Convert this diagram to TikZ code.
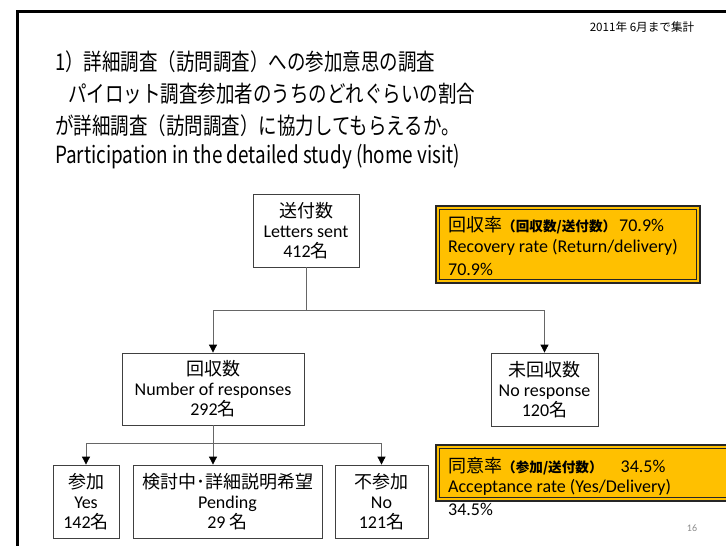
\documentclass[tikz,border=0pt]{standalone}
\usepackage{fontspec}
\setmainfont{Carlito}
\newfontfamily\jp{Noto Sans CJK JP}
\usetikzlibrary{arrows.meta}
\definecolor{rateorange}{HTML}{FFC000}
\newcommand{\tall}[1]{\scalebox{1}[1.25]{#1}}

\begin{document}
\begin{tikzpicture}[x=1pt,y=-1pt,
  box/.style={draw=black!75,line width=0.8pt,fill=white,align=center,
    inner sep=0pt,font=\fontsize{18}{20}\selectfont},
  ln/.style={draw=black!60,line width=0.8pt},
  arr/.style={ln,-{Triangle[width=8pt,length=8pt,color=black]}},
  ratebox/.style={fill=rateorange,draw=black!85,line width=1.6pt},
  rateinner/.style={draw=black!85,line width=0.7pt},
  ratetext/.style={anchor=west,inner sep=0pt,font=\fontsize{18}{20}\selectfont},
  title/.style={anchor=west,inner sep=0pt,font=\jp\fontsize{18.5}{22}\selectfont}]

\path[use as bounding box,clip] (0,0) rectangle (726,546);

\coordinate (f0) at (17,546);
\coordinate (f1) at (17,11);
\coordinate (f2) at (726,11);
\coordinate (split1) at (306,310);
\coordinate (split2) at (213,443);
  \draw[line width=3pt] (f0) -- (f1) -- (f2);

  \node[inner sep=0pt,font=\jp\fontsize{11.6}{14}\selectfont] (date) at (642,27) {2011年 6月まで集計};

  \node[title] (t1) at (55,62) {\tall{1）詳細調査（訪問調査）への参加意思の調査}};
  \node[title] (t2) at (68,94) {\tall{パイロット調査参加者のうちのどれぐらいの割合}};
  \node[title] (t3) at (55,126) {\tall{が詳細調査（訪問調査）に協力してもらえるか。}};
  \node[title,font=\jp\fontsize{18.9}{22}\selectfont] (t4) at (55,157)
    {\tall{Participation in the detailed study (home visit)}};

  \node[box,minimum width=106pt,minimum height=73pt] (send) at (306,230.5)
    {{\jp 送付数}\\Letters sent\\412{\jp 名}};
  \node[box,minimum width=182pt,minimum height=72pt] (resp) at (213,389)
    {{\jp 回収数}\\Number of responses\\292{\jp 名}};
  \node[box,minimum width=107pt,minimum height=73pt] (noresp) at (544.5,389.5)
    {{\jp 未回収数}\\No response\\120{\jp 名}};
  \node[box,minimum width=66pt,minimum height=73pt] (yes) at (86,501.5)
    {{\jp 参加}\\Yes\\142{\jp 名}};
  \node[box,minimum width=189pt,minimum height=73pt] (pend) at (227.5,501.5)
    {{\jp 検討中･詳細説明希望}\\Pending\\29 {\jp 名}};
  \node[box,minimum width=93pt,minimum height=73pt] (no) at (381.5,501.5)
    {{\jp 不参加}\\No\\121{\jp 名}};

  \draw[ln] (send.south) -- (split1);
  \draw[arr] (split1) -| (resp.north);
  \draw[arr] (split1) -| (noresp.north);
  \draw[ln] (resp.south) -- (split2);
  \draw[arr] (split2) -| (yes.north);
  \draw[arr] (split2) -- (split2 |- pend.north);
  \draw[arr] (split2) -| (no.north);

  % rate boxes
  \draw[ratebox] (436,206) rectangle (700,283);
  \draw[rateinner] (439.5,209.5) rectangle (696.5,279.5);
  \node[ratetext] (rec1) at (448,225)
    {{\jp 回収率}{\jp\bfseries\fontsize{13.6}{15}\selectfont （回収数/送付数）}\,70.9\%};
  \node[ratetext] (rec2) at (448,247) {Recovery rate (Return/delivery)};
  \node[ratetext] (rec3) at (448,269) {70.9\%};

  \draw[ratebox] (436,445) rectangle (740,501);
  \draw[rateinner] (439.5,448.5) rectangle (740,497.5);
  \node[ratetext] (acc1) at (448,466)
    {{\jp 同意率}{\jp\bfseries\fontsize{13.6}{15}\selectfont （参加/送付数）}\quad 34.5\%};
  \node[ratetext] (acc2) at (448,487) {Acceptance rate (Yes/Delivery)};
  \node[ratetext] (acc3) at (448,509) {34.5\%};

  \node[text=black!45,inner sep=0pt,font=\fontsize{10}{12}\selectfont] (page) at (692,528) {16};
\end{tikzpicture}
\end{document}
